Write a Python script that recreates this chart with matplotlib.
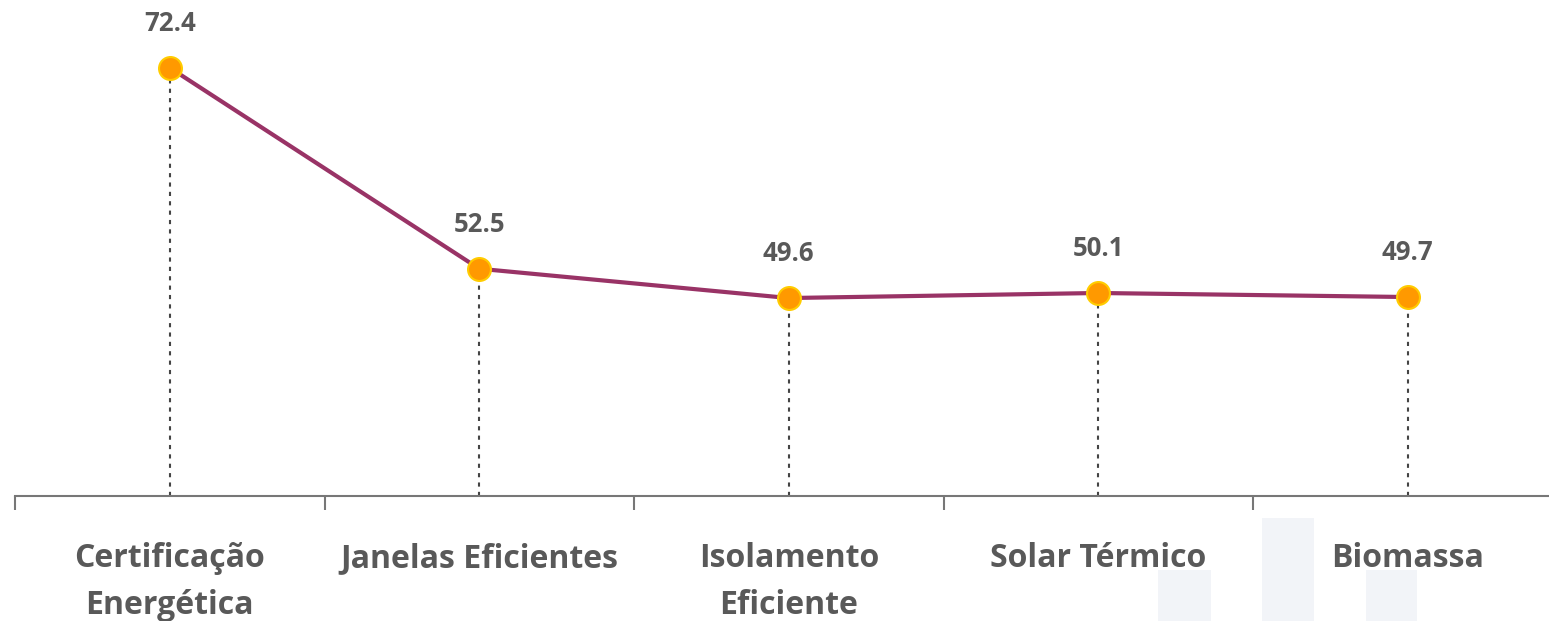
import numpy as np
import matplotlib.pyplot as plt
from matplotlib.patches import Rectangle

# dados
categorias = ["Certificação\nEnergética", "Janelas Eficientes", "Isolamento\nEficiente",
              "Solar Térmico", "Biomassa"]
valores = [72.4, 52.5, 49.6, 50.1, 49.7]

plt.rcParams['font.family'] = ['Open Sans', 'DejaVu Sans']
cinza = '#595959'

fig = plt.figure(figsize=(15.49, 6.21), dpi=100)
ax = fig.add_axes([15 / 1549, 125 / 621, 1547.5 / 1549, 496 / 621])
ax.set_facecolor('none')

x = np.arange(len(valores))

# linhas verticais pontilhadas
ax.vlines(x, 30, valores, colors='#444444', linestyles=(0, (2, 2.5)), linewidth=1.5, zorder=1)

ax.plot(x, valores, color='#993366', linewidth=3, zorder=2)
ax.plot(x, valores, 'o', markersize=16.5, markerfacecolor='#FF9900',
        markeredgecolor='#FFCC00', markeredgewidth=1.5, zorder=3)

for xi, v in zip(x, valores):
    ax.annotate(f"{v:.1f}", (xi, v), xytext=(0, 32), textcoords='offset points',
                ha='center', va='center', fontsize=18.5, fontweight='bold', color=cinza)

ax.set_xlim(-0.5, len(valores) - 0.5)
ax.set_ylim(30, 30 + 496 / 10.1)

ax.set_xticks(x)
ax.set_xticklabels(categorias, fontsize=23, fontweight='bold', color=cinza, linespacing=1.55)
ax.set_xticks(np.arange(len(valores) + 1) - 0.5, minor=True)
ax.tick_params(axis='x', which='major', length=0, pad=33)
ax.tick_params(axis='x', which='minor', length=10, width=1.5, color='#777777', direction='out')
ax.set_yticks([])

for s in ['top', 'right', 'left']:
    ax.spines[s].set_visible(False)
ax.spines['bottom'].set_color('#777777')
ax.spines['bottom'].set_linewidth(1.5)

# marca d'água ao fundo
for (x0, y0, w, h) in [(1158, 570, 53, 51), (1262, 518, 52, 103), (1366, 570, 51, 51)]:
    fig.patches.append(Rectangle((x0 / 1549, 1 - (y0 + h) / 621), w / 1549, h / 621,
                                 transform=fig.transFigure, facecolor='#F2F4F8',
                                 edgecolor='none', zorder=-1))

fig.savefig('out.png', dpi=100)
